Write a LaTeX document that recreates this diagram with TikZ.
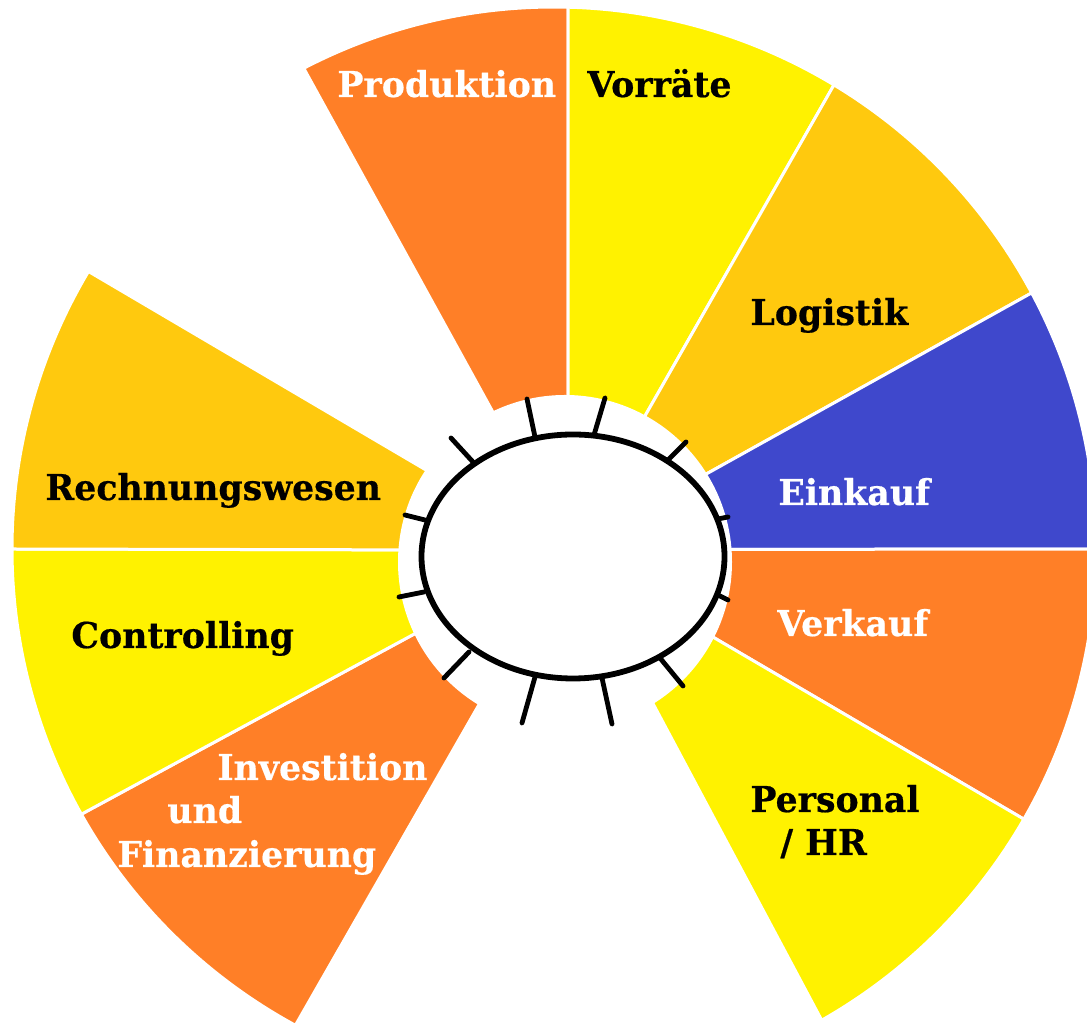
\documentclass[tikz,border=0pt]{standalone}
\usepackage{fontspec}
\newfontfamily\lblfont[FakeStretch=0.975, FakeBold=0.5]{DejaVu Serif}
\definecolor{porange}{HTML}{FF7F27}
\definecolor{pyellow}{HTML}{FFF200}
\definecolor{pgold}{HTML}{FFC90E}
\definecolor{pblue}{HTML}{3F48CC}
\newcommand\wedgesector[5]{%
  \filldraw[sector, fill=#1] #2 -- ([shift={(O)}]#3:271pt)
    arc[start angle=#3, end angle=#4, radius=271pt] -- #5 -- cycle;}
\begin{document}
\begin{tikzpicture}[x=0.5pt,y=0.5pt,
  sector/.style={draw=white, line width=1.5pt, line join=miter},
  lbl/.style={font=\lblfont\bfseries\fontsize{17.8}{22}\selectfont, inner sep=0pt, anchor=base west},
  tickline/.style={line width=2.4pt, line cap=round}]
\useasboundingbox (0,0) rectangle (1087,1027);
\fill[white] (0,0) rectangle (1087,1027);
\clip (0,0) rectangle (1087,1027);
\coordinate (O) at (554,478);
% sectors
\wedgesector{porange}{(522,562)}{117.5}{88.5}{(568,567)}
\wedgesector{pyellow}{(568,567)}{88.5}{58.9}{(617,562)}
\wedgesector{pgold}{(617,562)}{58.9}{28.2}{(656,525)}
\wedgesector{pblue}{(656,525)}{28.2}{0}{(670,477.5)}
\wedgesector{porange}{(670,477.5)}{0}{-29.9}{(665,418)}
\wedgesector{pyellow}{(665,418)}{-29.9}{-60.4}{(625,376)}
\wedgesector{porange}{(508,373)}{241.5}{209.3}{(466,421)}
\wedgesector{pyellow}{(466,421)}{209.3}{180}{(459,477)}
\wedgesector{pgold}{(459,477)}{180}{149.2}{(477,527)}
% inner white gap
\fill[white] (565,465) circle[radius=83.5pt];
% ticks
\draw[tickline] (527,628) -- (535,590);
\draw[tickline] (605,629) -- (594,592);
\draw[tickline] (686,585) -- (667,566);
\draw[tickline] (728,510) -- (718,508);
\draw[tickline] (728,427) -- (718,432);
\draw[tickline] (683,341) -- (660,369);
\draw[tickline] (612,303) -- (602,349);
\draw[tickline] (522,304) -- (535,350);
\draw[tickline] (444,349) -- (469,375);
\draw[tickline] (399,430) -- (424,435);
\draw[tickline] (405,512) -- (425,507);
\draw[tickline] (451,589) -- (473,565);
% central ellipse
\draw[line width=2.9pt] (573,470.5) ellipse[x radius=75.75pt, y radius=61pt];
% labels
\node[lbl, text=white] (produktion) at (337,930) {Produktion};
\node[lbl] (vorraete) at (587,930) {Vorräte};
\node[lbl] (logistik) at (750,702) {Logistik};
\node[lbl, text=white] (einkauf) at (778,522) {Einkauf};
\node[lbl, text=white] (verkauf) at (777,391) {Verkauf};
\node[lbl] (personal1) at (750,215) {Personal};
\node[lbl] (personal2) at (780,172) {/ HR};
\node[lbl] (rechnung) at (45,527) {Rechnungswesen};
\node[lbl] (controlling) at (71,379) {Controlling};
\node[lbl, text=white] (invest1) at (217,247) {Investition};
\node[lbl, text=white] (invest2) at (167,204) {und};
\node[lbl, text=white] (invest3) at (117,160) {Finanzierung};
\end{tikzpicture}
\end{document}
